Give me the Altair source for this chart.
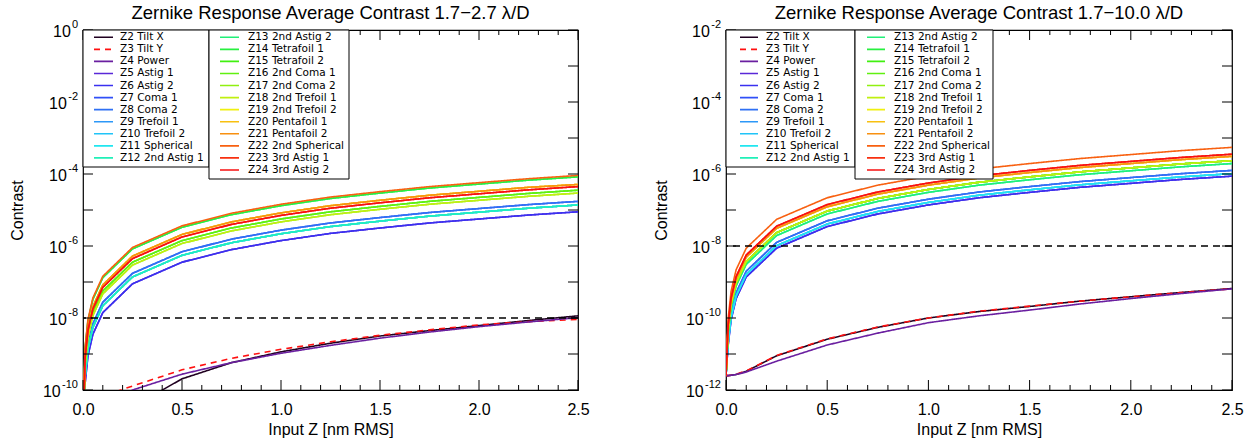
import altair as alt
import pandas as pd

FONT = "Liberation Sans"
LEG_FONT = "DejaVu Sans"

# sample points of input Zernike amplitude [nm RMS]
X = [0, 0.01, 0.025, 0.05, 0.1, 0.25, 0.5, 0.75, 1.0, 1.25, 1.5, 1.75, 2.0, 2.25, 2.5]

NAMES = ["Z2 Tilt X", "Z3 Tilt Y", "Z4 Power", "Z5 Astig 1", "Z6 Astig 2",
         "Z7 Coma 1", "Z8 Coma 2", "Z9 Trefoil 1", "Z10 Trefoil 2", "Z11 Spherical",
         "Z12 2nd Astig 1", "Z13 2nd Astig 2", "Z14 Tetrafoil 1", "Z15 Tetrafoil 2",
         "Z16 2nd Coma 1", "Z17 2nd Coma 2", "Z18 2nd Trefoil 1", "Z19 2nd Trefoil 2",
         "Z20 Pentafoil 1", "Z21 Pentafoil 2", "Z22 2nd Spherical", "Z23 3rd Astig 1",
         "Z24 3rd Astig 2"]
COLORS = ["#200020", "#ff1010", "#6a1fa0", "#5a28d8", "#3a30f0",
          "#3050f8", "#2f70f4", "#2c98f8", "#20c4f8", "#20e6f0",
          "#20f0b8", "#20f078", "#28f040", "#40f010",
          "#60f010", "#90f010", "#c0f010", "#f0f010",
          "#f8c010", "#f89010", "#f86010", "#f83010",
          "#f81010"]
DASHES = [[1, 0], [6, 5]] + [[1, 0]] * 21

# ---- left panel (1.7-2.7 lambda/D): log10 contrast ----
L_TILTX = [-11.5, -11.5, -11.4, -11.3, -11.1, -10.47, -9.69, -9.24, -8.94, -8.70, -8.50, -8.35, -8.21, -8.07, -7.94]
L_TILTY = [-11.5, -11.3, -11.0, -10.7, -10.17, -9.89, -9.44, -9.12, -8.87, -8.66, -8.48, -8.33, -8.19, -8.10, -8.04]
L_POWER = [-11.5, -11.4, -11.2, -11.0, -10.6, -10.0, -9.56, -9.24, -8.98, -8.76, -8.56, -8.39, -8.24, -8.11, -7.99]
L_TOP_OR = [-11.5, -8.84, -8.04, -7.44, -6.84, -6.04, -5.44, -5.09, -4.84, -4.64, -4.49, -4.35, -4.24, -4.13, -4.04]
L_TOP_GR = [-11.5, -8.88, -8.08, -7.48, -6.88, -6.08, -5.48, -5.13, -4.88, -4.68, -4.53, -4.39, -4.28, -4.17, -4.08]
L_ORANGE = [-11.5, -9.08, -8.28, -7.68, -7.08, -6.28, -5.68, -5.33, -5.08, -4.88, -4.73, -4.59, -4.48, -4.37, -4.29]
L_RED = [-11.5, -9.15, -8.35, -7.75, -7.15, -6.35, -5.75, -5.40, -5.15, -4.95, -4.80, -4.66, -4.55, -4.44, -4.35]
L_GREEN = [-11.5, -9.25, -8.45, -7.85, -7.25, -6.45, -5.85, -5.50, -5.25, -5.05, -4.90, -4.76, -4.65, -4.54, -4.45]
L_YGREEN = [-11.5, -9.33, -8.53, -7.93, -7.33, -6.53, -5.93, -5.58, -5.33, -5.13, -4.98, -4.84, -4.73, -4.62, -4.53]
L_BLUE = [-11.5, -9.56, -8.76, -8.16, -7.56, -6.76, -6.16, -5.81, -5.56, -5.36, -5.21, -5.07, -4.96, -4.85, -4.76]
L_CYAN = [-11.5, -9.66, -8.86, -8.26, -7.66, -6.86, -6.26, -5.91, -5.66, -5.46, -5.31, -5.17, -5.06, -4.95, -4.86]
L_DBLUE = [-11.5, -9.85, -9.05, -8.45, -7.85, -7.05, -6.45, -6.10, -5.85, -5.65, -5.50, -5.36, -5.25, -5.14, -5.05]

LEFT = [L_TILTX, L_TILTY, L_POWER, L_DBLUE, L_DBLUE,
        L_BLUE, L_BLUE, L_CYAN, L_CYAN, L_CYAN,
        L_CYAN, L_TOP_GR, L_TOP_GR, L_GREEN,
        L_GREEN, L_YGREEN, L_YGREEN, L_ORANGE,
        L_ORANGE, L_ORANGE, L_TOP_OR, L_RED,
        L_RED]

# ---- right panel (1.7-10.0 lambda/D) ----
R_TILTX = [-11.6, -11.6, -11.59, -11.57, -11.48, -11.05, -10.59, -10.26, -10.0, -9.82, -9.68, -9.53, -9.41, -9.29, -9.18]
R_TILTY = [-11.6, -11.6, -11.59, -11.56, -11.47, -11.04, -10.58, -10.25, -10.0, -9.81, -9.67, -9.53, -9.41, -9.29, -9.19]
R_POWER = [-11.6, -11.6, -11.59, -11.57, -11.5, -11.2, -10.75, -10.42, -10.13, -9.94, -9.78, -9.61, -9.46, -9.32, -9.19]
R_TOP_OR = [-11.6, -10.05, -9.26, -8.66, -8.06, -7.26, -6.66, -6.31, -6.06, -5.86, -5.71, -5.57, -5.46, -5.35, -5.26]
R_RED = [-11.6, -10.23, -9.45, -8.85, -8.25, -7.45, -6.85, -6.50, -6.25, -6.05, -5.90, -5.76, -5.65, -5.54, -5.45]
R_ORANGE = [-11.6, -10.29, -9.51, -8.91, -8.31, -7.51, -6.91, -6.56, -6.31, -6.11, -5.96, -5.82, -5.71, -5.60, -5.51]
R_GREEN = [-11.6, -10.40, -9.63, -9.03, -8.43, -7.63, -7.03, -6.68, -6.43, -6.23, -6.08, -5.94, -5.83, -5.72, -5.63]
R_SGREEN = [-11.6, -10.47, -9.71, -9.11, -8.51, -7.71, -7.11, -6.76, -6.51, -6.31, -6.16, -6.02, -5.91, -5.80, -5.71]
R_BLUE = [-11.6, -10.65, -9.90, -9.30, -8.70, -7.90, -7.30, -6.95, -6.70, -6.50, -6.35, -6.21, -6.10, -5.99, -5.90]
R_CYAN = [-11.6, -10.73, -9.98, -9.39, -8.79, -7.99, -7.39, -7.04, -6.79, -6.59, -6.44, -6.30, -6.19, -6.08, -5.99]
R_DBLUE = [-11.6, -10.79, -10.05, -9.46, -8.86, -8.06, -7.46, -7.11, -6.86, -6.66, -6.51, -6.37, -6.26, -6.15, -6.06]

RIGHT = [R_TILTX, R_TILTY, R_POWER, R_DBLUE, R_DBLUE,
         R_BLUE, R_BLUE, R_CYAN, R_CYAN, R_CYAN,
         R_SGREEN, R_SGREEN, R_GREEN, R_GREEN,
         R_GREEN, R_GREEN, R_GREEN, R_ORANGE,
         R_ORANGE, R_ORANGE, R_TOP_OR, R_RED,
         R_RED]

X_MAJOR = [0.0, 0.5, 1.0, 1.5, 2.0, 2.5]
X_MINOR = [0.1, 0.2, 0.3, 0.4, 0.6, 0.7, 0.8, 0.9, 1.1, 1.2, 1.3, 1.4, 1.6, 1.7, 1.8, 1.9,
           2.1, 2.2, 2.3, 2.4]


def panel(series_vals, ymin_exp, ymax_exp, width, title, leg, ytitle_pad):
    H = 360
    rows = []
    for name, vals in zip(NAMES, series_vals):
        for xv, lv in zip(X, vals):
            rows.append({"series": name, "x": xv, "y": 10.0 ** lv})
    df = pd.DataFrame(rows)

    labeled = list(range(ymax_exp, ymin_exp - 1, -2))
    ydom = [10.0 ** ymin_exp, 10.0 ** ymax_exp]

    def xenc(field):
        return alt.X(f"{field}:Q",
                     scale=alt.Scale(domain=[0, 2.5], nice=False, zero=False),
                     axis=alt.Axis(title="Input Z [nm RMS]", values=X_MAJOR, format=".1f",
                                   ticks=False, domain=False, grid=False, labelPadding=11,
                                   titlePadding=4, labelFlush=False))

    def yenc(field):
        return alt.Y(f"{field}:Q",
                     scale=alt.Scale(type="log", domain=ydom, nice=False),
                     axis=alt.Axis(title="Contrast", labels=False, ticks=False, domain=False,
                                   grid=False, titlePadding=ytitle_pad))

    color = alt.Color("series:N", scale=alt.Scale(domain=NAMES, range=COLORS), legend=None)
    dash = alt.StrokeDash("series:N", scale=alt.Scale(domain=NAMES, range=DASHES), legend=None)

    lines = alt.Chart(df).mark_line(clip=True, strokeWidth=1.6).encode(
        x=xenc("x"), y=yenc("y"), color=color, strokeDash=dash, detail="series:N")

    ref = alt.Chart(pd.DataFrame({"v": [1e-8]})).mark_rule(
        color="black", strokeDash=[7, 5], strokeWidth=1.3).encode(y=yenc("v"))

    decades = pd.DataFrame({"v": [10.0 ** e for e in range(ymin_exp, ymax_exp + 1)]})
    yt_l = alt.Chart(decades).mark_rule(color="black").encode(
        y=yenc("v"), x=alt.value(0), x2=alt.value(10))
    yt_r = alt.Chart(decades).mark_rule(color="black").encode(
        y=yenc("v"), x=alt.value(width - 10), x2=alt.value(width))
    major = pd.DataFrame({"v": X_MAJOR})
    minor = pd.DataFrame({"v": X_MINOR})
    xt = []
    for d, ln in ((major, 10), (minor, 5)):
        xt.append(alt.Chart(d).mark_rule(color="black").encode(
            x=xenc("v"), y=alt.value(H), y2=alt.value(H - ln)))
        xt.append(alt.Chart(d).mark_rule(color="black").encode(
            x=xenc("v"), y=alt.value(0), y2=alt.value(ln)))

    # y tick labels "10" with a raised exponent
    ylab = alt.Chart(pd.DataFrame({"e": labeled})).transform_calculate(
        v="pow(10, datum.e)",
        es="toString(datum.e)",
    ).transform_calculate(
        ew="datum.e < 0 ? 6.2 * (length(datum.es) - 1) + 3.9 : 6.2 * length(datum.es)",
    ).transform_calculate(
        bx="-6 - datum.ew",
    )
    ten = ylab.mark_text(align="right", baseline="middle", fontSize=16, font=FONT,
                         color="black", dy=2).encode(
        y=yenc("v"), x=alt.X("bx:Q", scale=None, axis=None), text=alt.value("10"))
    expo = ylab.mark_text(align="right", baseline="middle", fontSize=11, font=FONT,
                          color="black", dy=-5).encode(
        y=yenc("v"), x=alt.value(-5), text="es:N")

    # legend (two boxed columns)
    c1x1, c2x1, l1, l2, t1, l3, l4, t2 = leg
    boxes = alt.Chart(pd.DataFrame({"col": [0, 1]})).transform_calculate(
        bx0=f"datum.col == 0 ? 0 : {c1x1}",
        bx1=f"datum.col == 0 ? {c1x1} : {c2x1}",
        by0="0",
        by1="datum.col == 0 ? 137 : 149",
    ).mark_rect(fill="white", stroke="black", strokeWidth=1).encode(
        x=alt.X("bx0:Q", scale=None, axis=None), x2="bx1:Q",
        y=alt.Y("by0:Q", scale=None, axis=None), y2="by1:Q")

    ldf = pd.DataFrame({"series": NAMES})
    ldf["idx"] = range(len(NAMES))
    leg_base = alt.Chart(ldf).transform_calculate(
        col="datum.idx < 11 ? 0 : 1",
        row="datum.idx < 11 ? datum.idx : datum.idx - 11",
    ).transform_calculate(
        ly="7.3 + 12.06 * datum.row",
        lx0=f"datum.col == 0 ? {l1} : {l3}",
        lx1=f"datum.col == 0 ? {l2} : {l4}",
        tx=f"datum.col == 0 ? {t1} : {t2}",
    )
    leg_lines = leg_base.mark_rule(strokeWidth=1.6).encode(
        x=alt.X("lx0:Q", scale=None, axis=None), x2="lx1:Q",
        y=alt.Y("ly:Q", scale=None, axis=None), color=color, strokeDash=dash)
    leg_text = leg_base.mark_text(align="left", baseline="middle", fontSize=10.5,
                                  font=LEG_FONT, color="black").encode(
        x=alt.X("tx:Q", scale=None, axis=None), y=alt.Y("ly:Q", scale=None, axis=None),
        text="series:N")

    return alt.layer(lines, ref, yt_l, yt_r, *xt, ten, expo,
                     boxes, leg_lines, leg_text).properties(
        width=width, height=H,
        title=alt.Title(title, fontSize=18.5, font=FONT, fontWeight="normal",
                        anchor="middle", offset=2, dy=5, color="black"))


left = panel(LEFT, -10, 0, 495, "Zernike Response Average Contrast 1.7\u22122.7 \u03bb/D",
             (126, 266, 11, 30, 37, 137, 156, 165), 58)
right = panel(RIGHT, -12, -2, 506, "Zernike Response Average Contrast 1.7\u221210.0 \u03bb/D",
              (129, 267, 14, 32, 40, 141, 159, 168), 57)

chart = alt.hconcat(left, right, spacing=62).properties(
    padding={"left": 8, "top": 2, "right": 5, "bottom": 0},
    background="white",
).configure_view(stroke="black", strokeWidth=1.2).configure_axis(
    labelFont=FONT, titleFont=FONT, labelFontSize=16, titleFontSize=16,
    labelColor="black", titleColor="black", titleFontWeight="normal")

chart.save("out.html", embed_options={"renderer": "svg", "actions": False})
